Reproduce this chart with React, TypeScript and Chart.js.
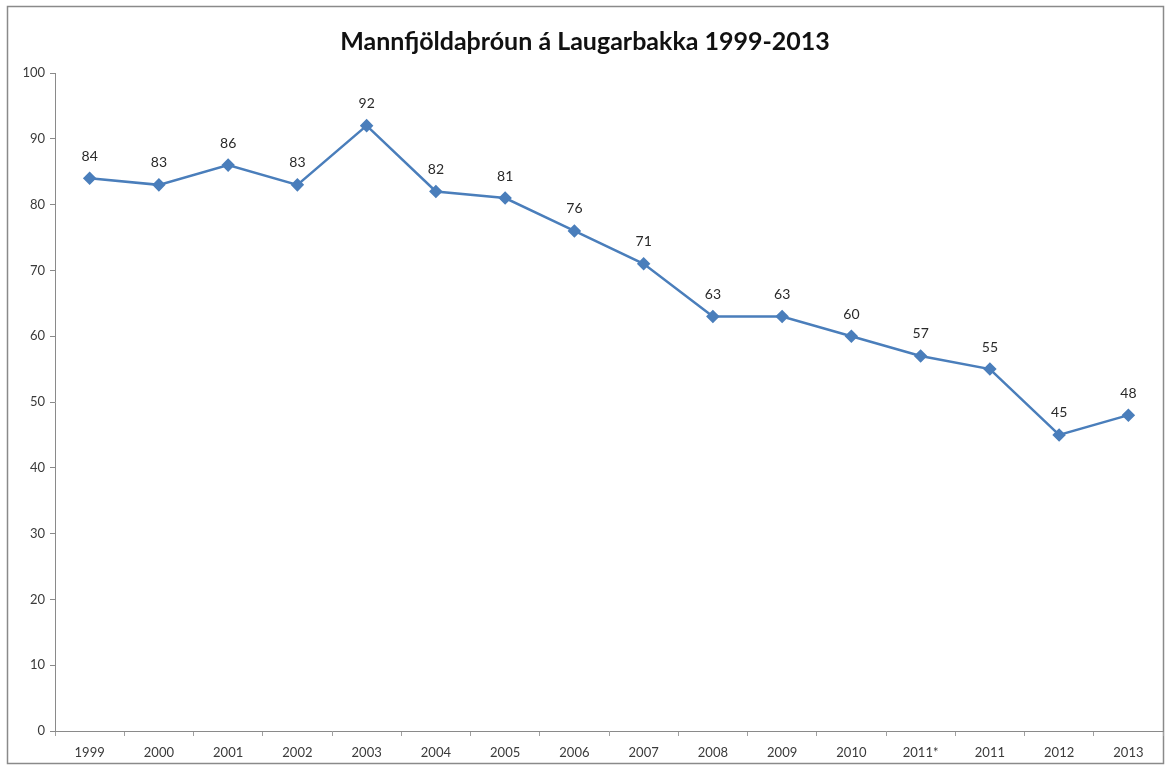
import React, { useEffect, useRef } from "react";
import { Chart, registerables } from "chart.js";

Chart.register(...registerables);

const title = "Mannfjöldaþróun á Laugarbakka 1999-2013";
const categories = ["1999", "2000", "2001", "2002", "2003", "2004", "2005", "2006", "2007", "2008", "2009", "2010", "2011*", "2011", "2012", "2013"];
const population = [84, 83, 86, 83, 92, 82, 81, 76, 71, 63, 63, 60, 57, 55, 45, 48];
const yMin = 0;
const yMax = 100;
const yStep = 10;

const FONT = "Lato, 'Open Sans', sans-serif";
const LINE = "#4A7EBB";

const framePlugin = {
  id: "frame",
  beforeDraw(chart: any) {
    const { ctx, width, height } = chart;
    ctx.save();
    ctx.fillStyle = "#ffffff";
    ctx.fillRect(0, 0, width, height);
    ctx.strokeStyle = "#8a8a8a";
    ctx.lineWidth = 1.5;
    ctx.strokeRect(7.5, 6.5, width - 15, height - 9);
    ctx.fillStyle = "#111111";
    ctx.font = `bold 25px ${FONT}`;
    ctx.textAlign = "center";
    ctx.textBaseline = "middle";
    ctx.fillText(title, 585, 42);
    ctx.restore();
  },
  afterDatasetsDraw(chart: any) {
    const { ctx } = chart;
    const meta = chart.getDatasetMeta(0);
    ctx.save();
    ctx.fillStyle = "#2a2a2a";
    ctx.font = `14px ${FONT}`;
    ctx.textAlign = "center";
    ctx.textBaseline = "middle";
    meta.data.forEach((pt: any, i: number) => {
      ctx.fillText(String(population[i]), pt.x, pt.y - 22);
    });
    ctx.restore();
  },
};

export default function App() {
  const ref = useRef<HTMLCanvasElement | null>(null);
  useEffect(() => {
    document.body.style.margin = "0";
    const canvas = ref.current!;
    const chart = new Chart(canvas, {
      type: "line",
      data: {
        labels: categories,
        datasets: [
          {
            data: population,
            borderColor: LINE,
            backgroundColor: LINE,
            borderWidth: 2.5,
            pointStyle: "rectRot",
            pointRadius: 5,
            pointHoverRadius: 5,
            pointBackgroundColor: LINE,
            pointBorderColor: LINE,
            tension: 0,
          },
        ],
      },
      options: {
        responsive: false,
        animation: false,
        events: [],
        layout: { padding: { left: 8, right: 8, top: 73, bottom: 0 } },
        plugins: {
          legend: { display: false },
          tooltip: { enabled: false },
          title: { display: false },
        },
        scales: {
          x: {
            offset: true,
            grid: {
              offset: true,
              drawOnChartArea: false,
              drawTicks: true,
              tickLength: 5,
              color: "#a0a0a0",
            },
            border: { color: "#8a8a8a", width: 1 },
            ticks: {
              color: "#3a3a3a",
              font: { family: FONT, size: 13 },
              padding: 9,
              maxRotation: 0,
              autoSkip: false,
            },
            afterFit(scale: any) {
              scale.height = 35;
            },
          },
          y: {
            min: yMin,
            max: yMax,
            grid: {
              drawOnChartArea: false,
              drawTicks: true,
              tickLength: 5,
              color: "#8a8a8a",
            },
            border: { color: "#8a8a8a", width: 1 },
            ticks: {
              stepSize: yStep,
              color: "#3a3a3a",
              font: { family: FONT, size: 13 },
              padding: 5,
            },
            afterFit(scale: any) {
              scale.width = 47;
            },
          },
        },
      },
      plugins: [framePlugin],
    });
    return () => chart.destroy();
  }, []);
  return <canvas ref={ref} width={1171} height={766} style={{ display: "block" }} />;
}
